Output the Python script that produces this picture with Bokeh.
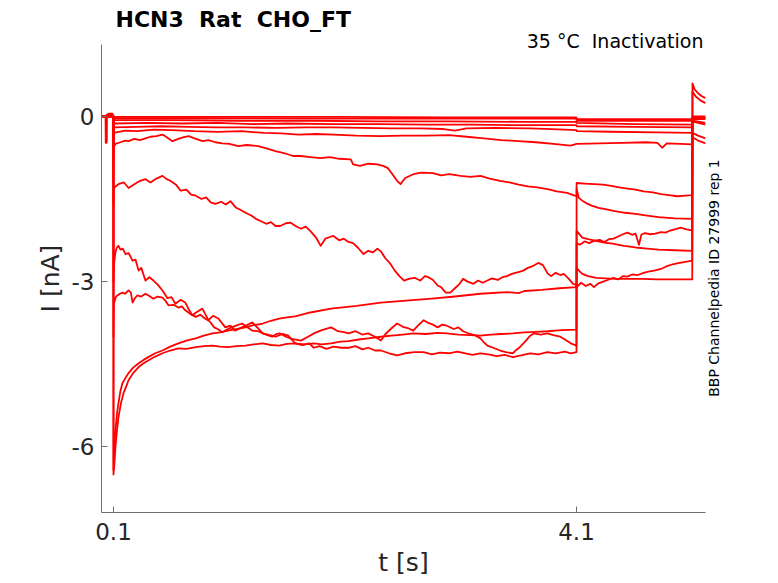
from math import pi
from bokeh.plotting import figure
from bokeh.models import Range1d, FixedTicker, LinearAxis, Title
from bokeh.embed import file_html
from bokeh.resources import INLINE

# ---------------- data (t [s], I [nA]) ----------------
# (a no-break space keeps the double spacing of the original texts in SVG)
TITLE = "HCN3 \u00a0Rat \u00a0CHO_FT"
SUBTITLE = "35 \u00b0C \u00a0Inactivation"
SIDE_TEXT = "BBP Channelpedia ID 27999 rep 1"
X_LABEL = "t [s]"
Y_LABEL = "I [nA]"
X_TICKS = [0.1, 4.1]
X_TICK_LABELS = ["0.1", "4.1"]
Y_TICKS = [0, -3, -6]
Y_TICK_LABELS = ["0", "-3", "-6"]

Z0a = [(0, 0), (0.031, 0), (0.033, -0.48), (0.04, -0.48), (0.042, 0.03), (0.06, 0.05), (0.09, 0.05),
       (0.0995, 0.0), (0.1, -0.3), (0.102, -0.01), (1.0, -0.01), (2.0, -0.01), (3.0, -0.02), (4.1, -0.02),
       (4.101, -0.05), (5.1, -0.05), (5.102, 0.0), (5.215, 0.0)]
Z0b = [(0, 0.01), (0.035, 0.01), (0.036, -0.45), (0.04, -0.45), (0.041, 0.02), (0.09, 0.03), (0.0995, 0.0),
       (0.1, -0.3), (0.102, -0.03), (2.0, -0.04), (4.1, -0.04), (4.101, -0.08), (5.1, -0.08), (5.102, -0.02),
       (5.215, -0.02)]
Z1 = [(0, 0), (0.0995, 0), (0.1, -0.3), (0.102, -0.07), (0.6, -0.07), (1.2, -0.08), (1.8, -0.08), (2.4, -0.09),
      (3.0, -0.09), (3.6, -0.1), (4.1, -0.1), (4.101, -0.12), (4.6, -0.14), (5.1, -0.15), (5.102, -0.04),
      (5.215, -0.04)]
Z2 = [(0, 0), (0.0995, 0), (0.1, -0.4), (0.102, -0.13), (0.4, -0.12), (0.7, -0.13), (1.0, -0.12), (1.3, -0.14),
      (1.6, -0.13), (2.0, -0.14), (2.4, -0.14), (2.8, -0.15), (3.2, -0.15), (3.6, -0.16), (4.1, -0.16),
      (4.101, -0.18), (4.6, -0.19), (5.1, -0.2), (5.102, -0.09), (5.15, -0.12), (5.215, -0.15)]
Z3 = [(0, 0), (0.0995, 0), (0.1, -0.5), (0.102, -0.2), (0.3, -0.19), (0.5, -0.18), (0.75, -0.19), (1.0, -0.2),
      (1.25, -0.2), (1.5, -0.21), (1.75, -0.2), (2.0, -0.2), (2.25, -0.21), (2.5, -0.22), (2.75, -0.22),
      (2.95, -0.23), (3.05, -0.26), (3.15, -0.22), (3.4, -0.21), (3.7, -0.22), (4.0, -0.24), (4.1, -0.25),
      (4.101, -0.27), (4.4, -0.28), (4.8, -0.29), (5.1, -0.3), (5.102, -0.03), (5.215, -0.03)]
T3 = [(0, 0), (0.0995, 0), (0.1, -0.6), (0.102, -0.3), (0.2, -0.26), (0.3, -0.27), (0.45, -0.24), (0.6, -0.25),
      (0.8, -0.27), (1.0, -0.28), (1.2, -0.27), (1.4, -0.3), (1.55, -0.31), (1.7, -0.33), (1.85, -0.32),
      (2.0, -0.33), (2.2, -0.35), (2.4, -0.36), (2.6, -0.35), (2.8, -0.35), (3.0, -0.34), (3.15, -0.37),
      (3.3, -0.4), (3.45, -0.43), (3.6, -0.45), (3.75, -0.47), (3.9, -0.5), (4.05, -0.53), (4.1, -0.5),
      (4.3, -0.49), (4.5, -0.48), (4.7, -0.47), (4.8, -0.48), (4.84, -0.57), (4.88, -0.49), (5.0, -0.5),
      (5.1, -0.51), (5.102, -0.38), (5.15, -0.44), (5.215, -0.49)]
T4 = [(0, 0), (0.0995, 0), (0.1, -0.8), (0.102, -0.55), (0.117, -0.5), (0.16, -0.47), (0.2, -0.44), (0.23, -0.45),
      (0.28, -0.41), (0.33, -0.43), (0.376, -0.4), (0.42, -0.37), (0.47, -0.36), (0.523, -0.33), (0.56, -0.38),
      (0.61, -0.45), (0.66, -0.41), (0.7, -0.38), (0.75, -0.36), (0.8, -0.4), (0.87, -0.45), (0.92, -0.43),
      (0.98, -0.47), (1.04, -0.49), (1.1, -0.5), (1.18, -0.54), (1.25, -0.52), (1.35, -0.54), (1.42, -0.58),
      (1.5, -0.63), (1.58, -0.67), (1.65, -0.72), (1.72, -0.72), (1.8, -0.74), (1.89, -0.76), (1.97, -0.74),
      (2.05, -0.77), (2.15, -0.78), (2.17, -0.87), (2.23, -0.9), (2.3, -0.86), (2.38, -0.87), (2.43, -0.9),
      (2.47, -0.94), (2.51, -1.05), (2.55, -1.17), (2.58, -1.23), (2.62, -1.12), (2.69, -1.05), (2.76, -1.02),
      (2.86, -1.03), (2.93, -1.07), (3.0, -1.05), (3.1, -1.08), (3.18, -1.1), (3.27, -1.08), (3.35, -1.13),
      (3.44, -1.17), (3.52, -1.2), (3.6, -1.24), (3.68, -1.27), (3.76, -1.29), (3.85, -1.32), (3.93, -1.36),
      (4.02, -1.39), (4.06, -1.42), (4.1, -1.45), (4.101, -1.21), (4.17, -1.22), (4.25, -1.23), (4.33, -1.24),
      (4.4, -1.26), (4.47, -1.29), (4.54, -1.31), (4.61, -1.33), (4.68, -1.36), (4.76, -1.38), (4.83, -1.41),
      (4.9, -1.43), (4.97, -1.45), (5.04, -1.44), (5.1, -1.43), (5.102, -0.3), (5.15, -0.35), (5.215, -0.4)]
T5 = [(0, 0), (0.0995, 0), (0.1, -1.6), (0.103, -1.3), (0.143, -1.23), (0.19, -1.2), (0.23, -1.3), (0.29, -1.22),
      (0.33, -1.17), (0.376, -1.14), (0.42, -1.2), (0.47, -1.13), (0.523, -1.08), (0.56, -1.14), (0.59, -1.17),
      (0.64, -1.24), (0.68, -1.35), (0.73, -1.33), (0.77, -1.42), (0.81, -1.44), (0.86, -1.5), (0.9, -1.47),
      (0.94, -1.56), (0.98, -1.59), (1.03, -1.55), (1.07, -1.6), (1.11, -1.54), (1.16, -1.66), (1.2, -1.7),
      (1.24, -1.75), (1.29, -1.8), (1.33, -1.86), (1.37, -1.9), (1.42, -1.95), (1.46, -1.92), (1.5, -1.99),
      (1.54, -1.99), (1.59, -1.94), (1.63, -1.93), (1.68, -2.0), (1.72, -2.04), (1.76, -2.0), (1.8, -2.08),
      (1.85, -2.2), (1.89, -2.35), (1.93, -2.22), (1.97, -2.19), (2.0, -2.17), (2.05, -2.25), (2.09, -2.22),
      (2.13, -2.28), (2.17, -2.3), (2.21, -2.38), (2.26, -2.5), (2.3, -2.44), (2.34, -2.47), (2.38, -2.4),
      (2.41, -2.45), (2.45, -2.58), (2.49, -2.67), (2.53, -2.8), (2.57, -2.9), (2.61, -2.98), (2.65, -2.95),
      (2.7, -2.93), (2.75, -2.98), (2.79, -2.9), (2.82, -2.92), (2.86, -2.97), (2.9, -3.07), (2.93, -3.1),
      (2.97, -3.2), (3.01, -3.2), (3.05, -3.12), (3.09, -3.04), (3.12, -2.95), (3.16, -3.0), (3.21, -3.04),
      (3.25, -2.98), (3.29, -3.02), (3.33, -2.98), (3.37, -2.94), (3.42, -2.97), (3.46, -2.92), (3.5, -2.9),
      (3.54, -2.86), (3.59, -2.83), (3.64, -2.8), (3.68, -2.75), (3.72, -2.72), (3.77, -2.66), (3.81, -2.7),
      (3.85, -2.85), (3.88, -2.9), (3.92, -2.84), (3.96, -2.88), (3.99, -2.86), (4.03, -2.94), (4.07, -3.04),
      (4.1, -3.06), (4.101, -3.1), (4.14, -3.02), (4.18, -3.08), (4.22, -3.04), (4.25, -3.1), (4.29, -3.03),
      (4.33, -3.0), (4.37, -2.97), (4.42, -2.93), (4.46, -2.96), (4.5, -2.9), (4.54, -2.91), (4.58, -2.87),
      (4.63, -2.88), (4.68, -2.84), (4.72, -2.82), (4.77, -2.8), (4.83, -2.77), (4.88, -2.72), (4.94, -2.68),
      (4.99, -2.66), (5.04, -2.64), (5.1, -2.62), (5.102, 0.6), (5.12, 0.49), (5.15, 0.42), (5.18, 0.37),
      (5.215, 0.33)]
T6 = [(0, 0), (0.0995, 0), (0.1, -3.0), (0.106, -2.65), (0.118, -2.45), (0.13, -2.38), (0.143, -2.35),
      (0.16, -2.42), (0.18, -2.4), (0.204, -2.5), (0.23, -2.48), (0.265, -2.62), (0.29, -2.6), (0.317, -2.8),
      (0.34, -2.75), (0.376, -2.98), (0.41, -2.92), (0.445, -2.98), (0.48, -3.05), (0.523, -3.16), (0.566, -3.3),
      (0.6, -3.28), (0.635, -3.4), (0.68, -3.33), (0.72, -3.38), (0.75, -3.5), (0.78, -3.61), (0.82, -3.55),
      (0.868, -3.49), (0.92, -3.7), (0.96, -3.62), (1.006, -3.67), (1.066, -3.83), (1.11, -3.8), (1.15, -3.89),
      (1.2, -3.84), (1.24, -3.8), (1.3, -3.74), (1.35, -3.85), (1.39, -3.94), (1.45, -3.97), (1.5, -4.0),
      (1.56, -3.95), (1.61, -3.98), (1.67, -4.12), (1.73, -4.15), (1.79, -4.12), (1.83, -4.2), (1.88, -4.17),
      (1.94, -4.22), (2.0, -4.18), (2.07, -4.2), (2.13, -4.2), (2.19, -4.17), (2.25, -4.23), (2.3, -4.2),
      (2.36, -4.25), (2.41, -4.25), (2.48, -4.3), (2.55, -4.34), (2.62, -4.3), (2.7, -4.28), (2.78, -4.28),
      (2.85, -4.32), (2.92, -4.29), (3.0, -4.3), (3.07, -4.27), (3.14, -4.3), (3.2, -4.33), (3.27, -4.3),
      (3.34, -4.32), (3.41, -4.35), (3.48, -4.33), (3.55, -4.37), (3.62, -4.34), (3.7, -4.3), (3.77, -4.32),
      (3.85, -4.28), (3.92, -4.3), (4.0, -4.27), (4.05, -4.3), (4.1, -4.28), (4.101, -2.75), (4.13, -2.82),
      (4.15, -2.86), (4.2, -2.9), (4.27, -2.93), (4.35, -2.94), (4.44, -2.95), (4.55, -2.95), (4.66, -2.95),
      (4.8, -2.96), (4.95, -2.96), (5.1, -2.96), (5.102, 0.45), (5.13, 0.36), (5.17, 0.29), (5.215, 0.24)]
T7 = [(0, 0), (0.0995, 0), (0.1, -4.0), (0.103, -3.4), (0.12, -3.28), (0.134, -3.25), (0.155, -3.22),
      (0.178, -3.2), (0.2, -3.22), (0.23, -3.16), (0.25, -3.2), (0.265, -3.38), (0.285, -3.3), (0.307, -3.25),
      (0.34, -3.27), (0.376, -3.22), (0.41, -3.26), (0.445, -3.31), (0.48, -3.27), (0.523, -3.29), (0.55, -3.35),
      (0.575, -3.43), (0.62, -3.42), (0.66, -3.47), (0.69, -3.45), (0.72, -3.52), (0.76, -3.58), (0.81, -3.64),
      (0.85, -3.6), (0.89, -3.67), (0.93, -3.72), (0.97, -3.83), (1.0, -3.86), (1.04, -3.92), (1.08, -3.87),
      (1.12, -3.83), (1.16, -3.8), (1.21, -3.76), (1.25, -3.82), (1.3, -3.89), (1.35, -3.9), (1.39, -3.94),
      (1.43, -3.97), (1.47, -4.0), (1.51, -3.95), (1.54, -3.94), (1.59, -4.0), (1.64, -4.04), (1.72, -4.07),
      (1.78, -4.0), (1.84, -3.93), (1.9, -3.88), (1.98, -3.83), (2.04, -3.9), (2.1, -3.92), (2.13, -3.94),
      (2.19, -3.9), (2.25, -3.96), (2.3, -3.94), (2.36, -4.0), (2.41, -4.07), (2.45, -3.95), (2.5, -3.85),
      (2.55, -3.76), (2.6, -3.82), (2.65, -3.85), (2.69, -3.89), (2.73, -3.8), (2.78, -3.7), (2.82, -3.75),
      (2.86, -3.78), (2.9, -3.83), (2.94, -3.78), (2.98, -3.8), (3.04, -3.86), (3.08, -3.83), (3.12, -3.9),
      (3.18, -3.95), (3.23, -3.98), (3.27, -4.03), (3.3, -4.1), (3.33, -4.16), (3.38, -4.2), (3.44, -4.25),
      (3.49, -4.28), (3.55, -4.3), (3.58, -4.24), (3.61, -4.19), (3.66, -4.08), (3.7, -3.98), (3.73, -3.94),
      (3.79, -3.96), (3.85, -3.94), (3.9, -3.97), (3.96, -4.0), (4.0, -4.05), (4.05, -4.12), (4.1, -4.16),
      (4.101, -2.3), (4.13, -2.33), (4.17, -2.27), (4.21, -2.3), (4.25, -2.26), (4.3, -2.24), (4.34, -2.28),
      (4.38, -2.23), (4.42, -2.22), (4.46, -2.18), (4.5, -2.14), (4.54, -2.11), (4.58, -2.15), (4.61, -2.13),
      (4.64, -2.33), (4.66, -2.15), (4.69, -2.12), (4.74, -2.14), (4.78, -2.13), (4.83, -2.1), (4.87, -2.11),
      (4.9, -2.08), (4.95, -2.05), (5.0, -2.02), (5.05, -2.05), (5.1, -2.07), (5.102, -0.03), (5.215, -0.03)]
T8 = [(0, 0), (0.0995, 0), (0.1, -6.42), (0.108, -6.0), (0.117, -5.7), (0.13, -5.4), (0.143, -5.2), (0.16, -4.98),
      (0.178, -4.84), (0.2, -4.76), (0.23, -4.66), (0.27, -4.56), (0.317, -4.48), (0.36, -4.42), (0.4, -4.37),
      (0.46, -4.3), (0.523, -4.25), (0.59, -4.18), (0.66, -4.12), (0.73, -4.07), (0.81, -4.03), (0.88, -3.98),
      (0.955, -3.94), (1.02, -3.92), (1.09, -3.89), (1.16, -3.86), (1.24, -3.83), (1.31, -3.79), (1.39, -3.76),
      (1.46, -3.71), (1.53, -3.67), (1.6, -3.65), (1.67, -3.63), (1.8, -3.56), (1.98, -3.49), (2.2, -3.44),
      (2.41, -3.38), (2.6, -3.35), (2.85, -3.31), (3.05, -3.27), (3.27, -3.22), (3.5, -3.19), (3.6, -3.21),
      (3.65, -3.17), (3.8, -3.15), (3.95, -3.12), (4.1, -3.1), (4.101, -1.32), (4.12, -1.48), (4.15, -1.53),
      (4.18, -1.57), (4.23, -1.62), (4.29, -1.66), (4.36, -1.69), (4.43, -1.72), (4.52, -1.75), (4.61, -1.77),
      (4.71, -1.8), (4.81, -1.83), (4.95, -1.85), (5.1, -1.86), (5.102, -0.05), (5.215, -0.05)]
T9 = [(0, 0), (0.0995, 0), (0.1, -6.5), (0.108, -6.3), (0.117, -6.0), (0.13, -5.7), (0.143, -5.46), (0.165, -5.2),
      (0.187, -5.02), (0.21, -4.9), (0.23, -4.79), (0.27, -4.66), (0.317, -4.55), (0.36, -4.48), (0.4, -4.43),
      (0.46, -4.36), (0.523, -4.3), (0.59, -4.25), (0.66, -4.21), (0.73, -4.22), (0.81, -4.19), (0.88, -4.17),
      (0.955, -4.16), (1.02, -4.18), (1.09, -4.19), (1.16, -4.17), (1.24, -4.16), (1.31, -4.14), (1.39, -4.12),
      (1.46, -4.15), (1.53, -4.16), (1.6, -4.13), (1.67, -4.12), (1.75, -4.14), (1.83, -4.12), (1.9, -4.14),
      (1.98, -4.12), (2.06, -4.09), (2.13, -4.08), (2.22, -4.05), (2.3, -4.03), (2.41, -4.0), (2.5, -3.98),
      (2.6, -3.96), (2.69, -3.94), (2.8, -3.95), (2.9, -3.93), (2.98, -3.94), (3.08, -3.96), (3.18, -3.97),
      (3.27, -3.98), (3.36, -3.96), (3.45, -3.95), (3.55, -3.94), (3.65, -3.92), (3.75, -3.91), (3.85, -3.9),
      (3.97, -3.88), (4.1, -3.87), (4.101, -2.08), (4.13, -2.15), (4.15, -2.2), (4.2, -2.23), (4.27, -2.26),
      (4.34, -2.29), (4.41, -2.31), (4.51, -2.35), (4.61, -2.38), (4.71, -2.4), (4.81, -2.42), (4.95, -2.43),
      (5.1, -2.44), (5.102, -0.08), (5.215, -0.12)]

TRACES = [Z0a, Z0b, Z1, Z2, Z3, T3, T4, T5, T6, T7, T8, T9]

# ---------------- figure ----------------
FONT = "DejaVu Sans"
AXIS_COLOR = "#6e6e6e"
TEXT_COLOR = "#262626"
SIDE_TEXT_Y = -5.09   # where the (upward-reading) side text starts, in data units

p = figure(width=770, height=583, title=None, output_backend="svg", toolbar_location=None,
           x_range=Range1d(-0.0037, 5.2145), y_range=Range1d(-7.19, 1.304),
           min_border_left=101, min_border_right=65, min_border_top=43, min_border_bottom=71)
p.xgrid.visible = False
p.ygrid.visible = False
p.outline_line_color = None
p.background_fill_color = "white"
p.border_fill_color = "white"

for ax, ticks, labels in ((p.xaxis, X_TICKS, X_TICK_LABELS), (p.yaxis, Y_TICKS, Y_TICK_LABELS)):
    ax.ticker = FixedTicker(ticks=ticks)
    ax.major_label_overrides = {t: l for t, l in zip(ticks, labels)}
    ax.minor_tick_line_color = None
    ax.major_tick_in = 6
    ax.major_tick_out = 0
    ax.axis_line_color = AXIS_COLOR
    ax.major_tick_line_color = AXIS_COLOR
    ax.major_label_text_font = FONT
    ax.major_label_text_font_size = "23px"
    ax.major_label_text_color = TEXT_COLOR
    ax.axis_label_text_font = FONT
    ax.axis_label_text_font_size = "25px"
    ax.axis_label_text_font_style = "normal"
    ax.axis_label_text_color = TEXT_COLOR
p.xaxis.major_label_standoff = 10
p.yaxis.major_label_standoff = 7
p.xaxis.axis_label = X_LABEL
p.yaxis.axis_label = Y_LABEL
p.xaxis.axis_label_standoff = 5
p.yaxis.axis_label_standoff = 4

# side text as the single label of an otherwise invisible right axis
side = LinearAxis(ticker=FixedTicker(ticks=[SIDE_TEXT_Y]),
                  major_label_overrides={SIDE_TEXT_Y: SIDE_TEXT},
                  major_label_orientation=pi / 2, major_label_standoff=9,
                  major_label_text_font=FONT, major_label_text_font_size="14px",
                  major_label_text_color="black", axis_line_color=None,
                  major_tick_line_color=None, minor_tick_line_color=None,
                  major_tick_in=0, major_tick_out=0)
p.add_layout(side, "right")

for tr in TRACES:
    p.line([pt[0] for pt in tr], [pt[1] for pt in tr], line_color="#ff0000",
           line_width=1.8, line_join="round")

try:
    sub = Title(text=SUBTITLE, align="right", offset=2, standoff=-15, text_font=FONT,
                text_font_size="19px", text_font_style="normal", text_color="black")
except Exception:
    sub = Title(text=SUBTITLE, align="right", offset=2, standoff=0, text_font=FONT,
                text_font_size="19px", text_font_style="normal", text_color="black")
main = Title(text=TITLE, align="left", offset=14, standoff=8, text_font=FONT,
             text_font_size="22px", text_font_style="bold", text_color="black")
p.add_layout(sub, "above")
p.add_layout(main, "above")

open("out.html", "w").write(file_html(p, INLINE))
